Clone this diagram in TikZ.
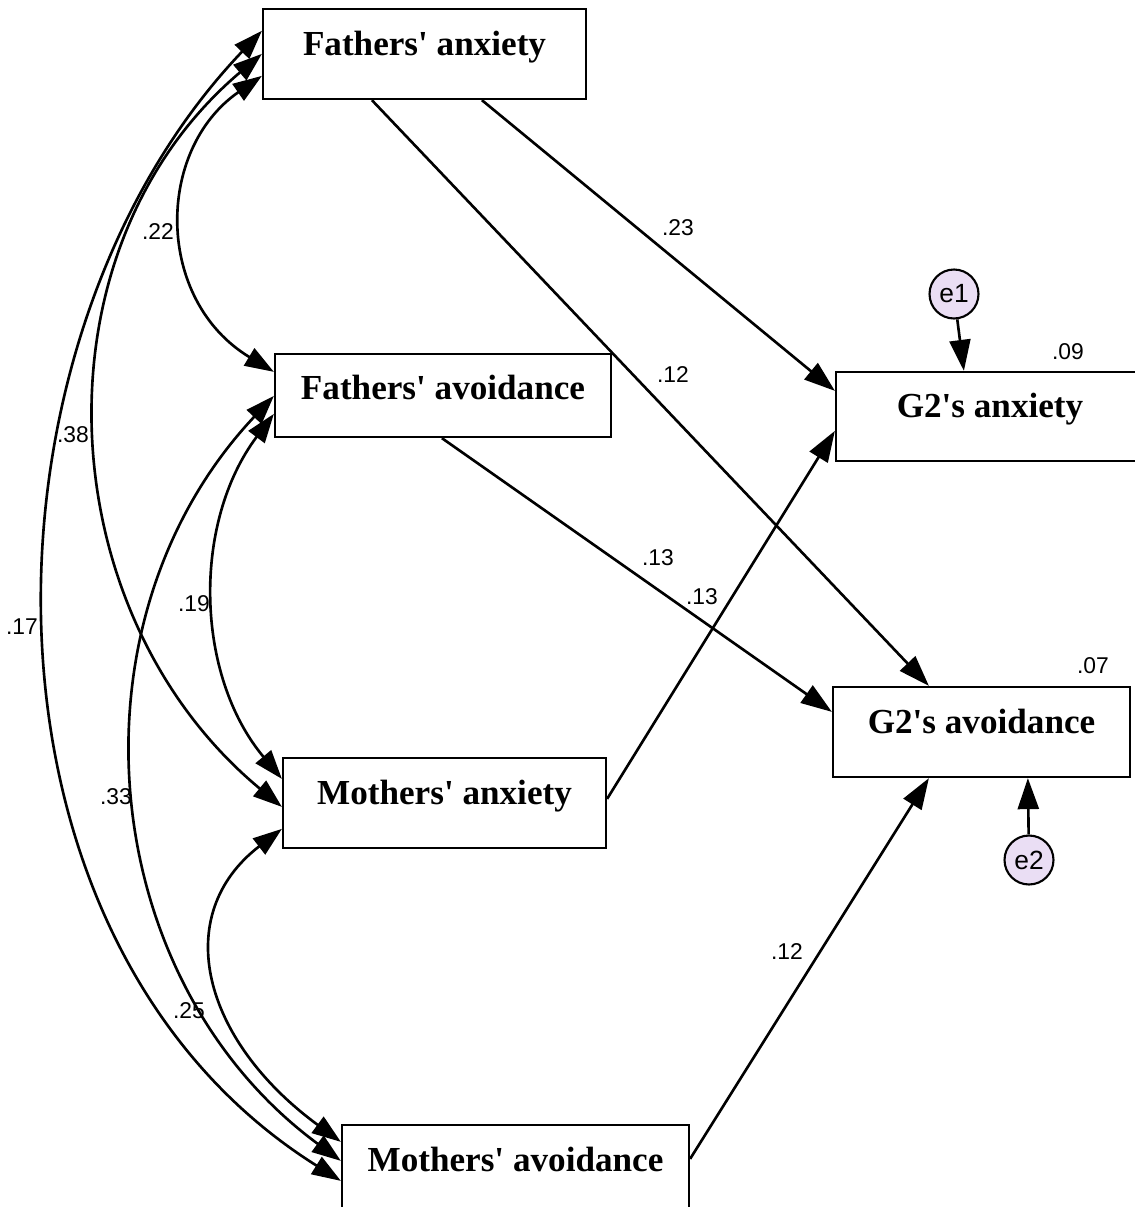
\documentclass[tikz,border=0pt]{standalone}
\usepackage{fontspec}
\setmainfont{Liberation Serif}
\newfontfamily\labfont{Liberation Sans}
\usetikzlibrary{arrows.meta,calc}
\definecolor{errfill}{RGB}{234,222,244}
\newcommand{\q}{\textquotesingle}
\begin{document}
\begin{tikzpicture}[x=0.02cm,y=-0.02cm,
  varbox/.style={draw,line width=1.3pt,rectangle,inner sep=0pt,fill=white,
    font=\fontsize{20}{24}\selectfont\bfseries,text height=0.92cm,text depth=0.88cm},
  errc/.style={draw,line width=1.2pt,circle,fill=errfill,inner sep=0pt,minimum size=0.98cm,
    font=\labfont\fontsize{15}{17}\selectfont},
  lab/.style={font=\labfont\fontsize{13}{15}\selectfont,inner sep=0pt},
  path/.style={line width=1.5pt,-{Triangle[length=0.62cm,width=0.42cm]}},
  cov/.style={line width=1.5pt,{Triangle[length=0.58cm,width=0.4cm]}-{Triangle[length=0.58cm,width=0.4cm]}}
]
\useasboundingbox (0,0) rectangle (1134,1207);
% boxes
\node[varbox,minimum width=6.46cm] (fa) at (424.5,54) {Fathers\q{} anxiety};
\node[varbox,minimum width=6.72cm,text height=0.9cm,text depth=0.76cm] (fav) at (443,395.5) {Fathers\q{} avoidance};
\node[varbox,minimum width=6.46cm] (ma) at (444.5,803) {Mothers\q{} anxiety};
\node[varbox,minimum width=6.94cm] (mav) at (515.5,1170) {Mothers\q{} avoidance};
\node[varbox,minimum width=6.16cm,text height=0.9cm,text depth=0.88cm] (g2a) at (990,416.5) {G2\q{}s anxiety};
\node[varbox,minimum width=5.94cm] (g2av) at (981.5,732) {G2\q{}s avoidance};
% error terms
\node[errc] (e1) at (954,294) {e1};
\node[errc] (e2) at (1029,860) {e2};
% directed paths
\draw[path] (e1) -- ($(g2a.north west)+(129,0)$);
\draw[path] (e2) -- ($(g2av.south west)+(196,0)$);
\draw[path] ($(fa.south west)+(220,0)$) -- ($(g2a.north west)+(0,20)$);
\draw[path] ($(fa.south west)+(110,0)$) -- ($(g2av.north west)+(97,0)$);
\draw[path] ($(fav.south west)+(168,0)$) -- ($(g2av.north west)+(0,26)$);
\draw[path] ($(ma.north east)+(0,42)$) -- ($(g2a.north west)+(0,60)$);
\draw[path] ($(mav.north east)+(0,35)$) -- ($(g2av.south west)+(97,0)$);
% covariances
\draw[cov] ($(fa.north west)+(0,68)$) .. controls (155,150) and (155,300) .. ($(fav.north west)+(0,19)$);
\draw[cov] ($(fa.north west)+(0,46)$) .. controls (30,250) and (48,613) .. ($(ma.north west)+(0,50)$);
\draw[cov] ($(fa.north west)+(0,23)$) .. controls (-33,340) and (-43,940) .. ($(mav.north west)+(0,57)$);
\draw[cov] ($(fav.north west)+(0,61)$) .. controls (192,523) and (195,675) .. ($(ma.north west)+(0,22)$);
\draw[cov] ($(fav.north west)+(0,43)$) .. controls (63,620) and (94,979) .. ($(mav.north west)+(0,37)$);
\draw[cov] ($(ma.north west)+(0,72)$) .. controls (170,915) and (202,1040) .. ($(mav.north west)+(0,18)$);
% labels
\node[lab] (l23) at (678,228) {.23};
\node[lab] (l12a) at (673,375) {.12};
\node[lab] (l13a) at (658,558) {.13};
\node[lab] (l13b) at (702,597) {.13};
\node[lab] (l12b) at (787,952) {.12};
\node[lab] (l09) at (1068,352) {.09};
\node[lab] (l07) at (1093,666) {.07};
\node[lab] (l22) at (158,232) {.22};
\node[lab] (l38) at (73,435) {.38};
\node[lab] (l17) at (22,627) {.17};
\node[lab] (l19) at (194,604) {.19};
\node[lab] (l33) at (116,797) {.33};
\node[lab] (l25) at (189,1011) {.25};
\end{tikzpicture}
\end{document}
